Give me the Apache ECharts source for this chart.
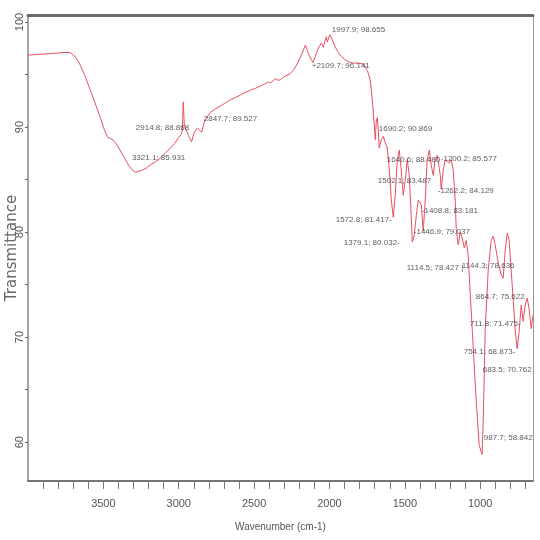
<!DOCTYPE html>
<html><head><meta charset="utf-8">
<script src="https://cdn.jsdelivr.net/npm/echarts@6/dist/echarts.min.js"></script>
<style>html,body{margin:0;padding:0;background:#fff}#c{width:540px;height:540px}</style>
</head><body><div id="c"></div>
<script>
// FTIR spectrum: wavenumber (cm-1) vs transmittance
const wavenumbers = [4000,3950,3900,3850,3800,3760,3720,3686,3653,3620,3586,3553,3520,3495,3473,3455,3440,3420,3401,3378,3354,3330,3308,3288,3265,3241,3215,3188,3155,3122,3090,3056,3030,3003,2985,2976,2970,2963,2956,2936,2915,2897,2877,2860,2848,2830,2810,2790,2760,2724,2690,2658,2625,2592,2560,2525,2490,2459,2430,2406,2390,2379,2360,2340,2326,2300,2260,2235,2207,2185,2160,2145,2134,2110,2090,2074,2054,2041,2030,2021,2014,1998,1980,1968,1942,1920,1895,1870,1849,1809,1776,1749,1730,1716,1703,1696,1690,1683,1676,1670,1657,1643,1630,1617,1603,1590,1577,1564,1550,1537,1524,1511,1497,1484,1471,1458,1451,1438,1424,1411,1405,1391,1378,1365,1352,1338,1325,1312,1299,1285,1265,1259,1245,1232,1219,1206,1192,1179,1166,1159,1146,1133,1119,1106,1093,1080,1053,1027,1007,988,980,967,947,927,914,901,881,861,848,834,821,808,795,781,768,755,741,728,715,702,688,675,662,650];
const transmittance = [96.85,96.9,96.95,97.0,97.05,97.1,97.1,96.7,95.9,94.8,93.5,92.2,90.9,89.8,89.05,88.9,88.85,88.5,88.1,87.5,86.9,86.3,85.9,85.7,85.8,85.9,86.1,86.4,86.7,87.05,87.5,88.0,88.4,88.95,89.3,89.7,92.4,90.2,89.9,89.2,88.6,89.5,89.9,89.7,89.5,90.5,91.0,91.4,91.7,92.0,92.3,92.6,92.8,93.05,93.3,93.5,93.7,93.9,94.1,94.3,94.2,94.15,94.6,94.45,94.5,94.8,95.1,95.5,96.2,96.9,97.8,97.2,96.8,96.14,96.9,97.5,98.0,97.6,98.2,98.6,98.1,98.8,98.3,97.8,97.1,96.7,96.4,96.2,96.1,96.1,96.0,95.4,94.5,92.6,90.2,88.8,90.5,90.9,89.7,88.0,88.8,89.1,88.5,88.0,85.9,83.05,81.4,83.5,86.9,87.8,85.9,83.5,84.95,86.9,85.4,81.6,79.05,79.7,81.6,83.05,83.2,82.6,80.1,83.05,86.9,87.8,86.4,85.4,86.9,87.3,85.4,84.1,85.9,86.9,87.05,86.6,86.9,85.9,83.05,80.2,78.8,80.0,79.4,78.5,79.2,77.8,70.7,64.0,59.7,58.84,62.1,70.7,76.4,79.2,79.6,78.8,77.1,75.9,75.6,78.3,79.9,79.2,76.4,73.5,70.7,68.9,70.7,73.05,71.5,73.05,73.7,72.6,70.8,72.1];

const xTickValues = [700,800,900,1000,1100,1200,1300,1400,1500,1600,1700,1800,1900,2000,2100,2200,2300,2400,2500,2600,2700,2800,2900,3000,3100,3200,3300,3400,3500,3600,3700,3800,3900];
const xLabelValues = [1000,1500,2000,2500,3000,3500];
const yTickValues = [60,65,70,75,80,85,90,95,100];
const yLabelValues = [60,70,80,90,100];

const peakLabels = ["1997.9; 98.655","+2109.7; 96.141","2914.8; 88.868","2847.7; 89.527","3321.1; 85.931","1690.2; 90.869","1640.6; 88.480","-1200.2; 85.577","1502.1; 83.487","-1262.2; 84.129","-1408.8; 83.181","1572.8; 81.417-","-1446.9; 79.037","1379.1; 80.032-","1114.5; 78.427 |","1144.3; 78.636","864.7; 75.622","711.8; 71.475-","754.1; 68.873-","683.5; 70.762","987.7; 58.842"];
const labelWave = [1988,2121,3288,2837,3314,1676,1623,1265,1683,1285,1391,1962,1444,1909,1491,1126,1033,1073,1113,987,980];
const labelValue = [99.24,95.81,89.9,90.76,87.05,89.81,86.86,86.95,84.86,83.9,82.0,81.14,80.0,78.95,76.57,76.76,73.81,71.24,68.57,66.86,60.38];

const NARROW = "'Liberation Sans Narrow','Liberation Sans',sans-serif";
const chart = echarts.init(document.getElementById('c'), null, {renderer:'canvas'});
chart.setOption({
  animation:false,
  backgroundColor:'#fff',
  grid:{left:28,right:7,top:15,bottom:59,show:false,containLabel:false,outerBoundsMode:'none'},
  xAxis:[{
    type:'value',min:650,max:4000,inverse:true,position:'bottom',
    axisLine:{show:true,lineStyle:{color:'#777',width:2}},
    axisTick:{show:true,customValues:xTickValues,length:8,lineStyle:{color:'#777',width:1}},
    axisLabel:{customValues:xLabelValues,formatter:v=>String(v),fontSize:11,fontFamily:NARROW,color:'#555',margin:17},
    splitLine:{show:false},
    name:'Wavenumber (cm-1)',nameLocation:'middle',nameGap:41,nameMoveOverlap:false,
    nameTextStyle:{fontSize:10,fontFamily:NARROW,color:'#555'}
  },{
    type:'value',min:650,max:4000,inverse:true,position:'top',
    axisLine:{show:true,onZero:false,lineStyle:{color:'#6a6a6a',width:3}},
    axisTick:{show:false},axisLabel:{show:false},splitLine:{show:false}
  }],
  yAxis:[{
    type:'value',min:56.3,max:100.67,position:'left',
    axisLine:{show:true,lineStyle:{color:'#888',width:1.5}},
    axisTick:{show:true,customValues:yTickValues,length:3,lineStyle:{color:'#666'}},
    axisLabel:{customValues:yLabelValues,formatter:v=>String(v),rotate:90,margin:3,fontSize:11,fontFamily:"'Liberation Sans',sans-serif",color:'#555'},
    splitLine:{show:false},
    name:'Transmittance',nameLocation:'middle',nameGap:8,nameMoveOverlap:false,
    nameTextStyle:{fontSize:15,fontFamily:"'DejaVu Sans',sans-serif",color:'#666'}
  },{
    type:'value',min:56.3,max:100.67,position:'right',
    axisLine:{show:true,onZero:false,lineStyle:{color:'#999',width:1}},
    axisTick:{show:false},axisLabel:{show:false},splitLine:{show:false}
  }],
  series:[{
    type:'line',
    data:wavenumbers.map((w,i)=>[w,transmittance[i]]),
    showSymbol:false,symbol:'none',sampling:'none',
    lineStyle:{color:'#e8505f',width:1},
    z:3
  },{
    type:'scatter',
    data:labelWave.map((w,i)=>[w,labelValue[i]]),
    symbolSize:1,itemStyle:{color:'rgba(255,255,255,0)'},
    label:{show:true,position:'right',distance:0,
      formatter:p=>peakLabels[p.dataIndex],
      fontSize:8,fontFamily:NARROW,color:'#333'},
    labelLayout:{hideOverlap:false},
    z:4
  }]
});
</script></body></html>
